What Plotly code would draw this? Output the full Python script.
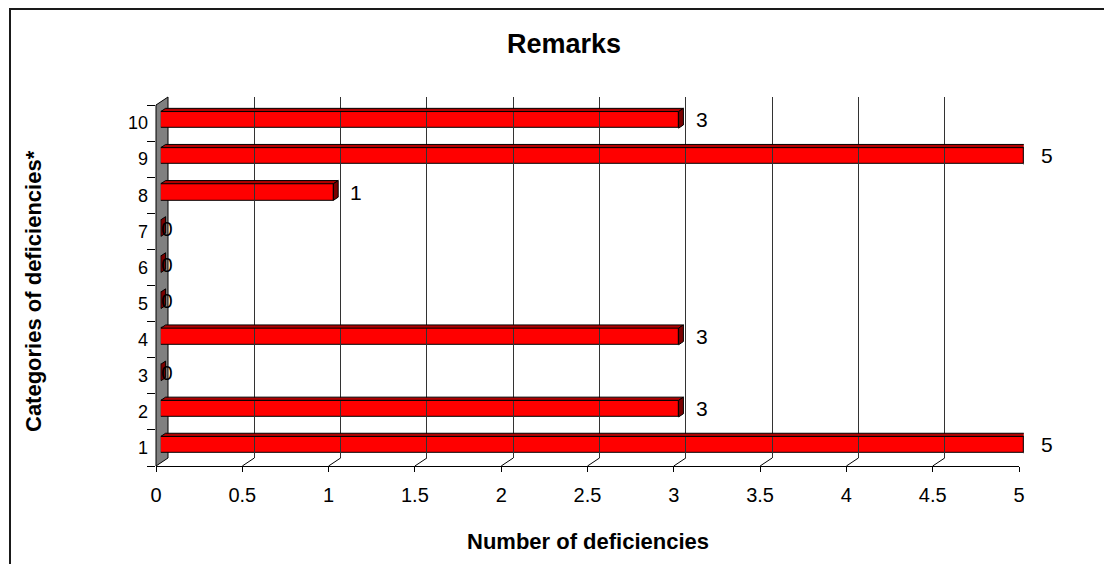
import plotly.graph_objects as go

# ---- data -------------------------------------------------------------
CATEGORIES = ["1", "2", "3", "4", "5", "6", "7", "8", "9", "10"]
COUNTS = [5, 3, 0, 3, 0, 0, 0, 1, 5, 3]
X_TICKS = [0, 0.5, 1, 1.5, 2, 2.5, 3, 3.5, 4, 4.5, 5]
X_TICK_TEXT = ["0", "0.5", "1", "1.5", "2", "2.5", "3", "3.5", "4", "4.5", "5"]
TITLE = "Remarks"
X_TITLE = "Number of deficiencies"
Y_TITLE = "Categories of deficiencies*"

# ---- frame geometry (pixels) -----------------------------------------
W, H = 1104, 564
FX0, FX1 = 156, 1019          # front edge of the floor (x = 0 .. 5)
FY_TOP, FY_BOT = 105, 466     # front edge of the side wall
DEPTH_X, DEPTH_Y = 12, -8     # full 3-D depth offset
BAR_FRONT, BAR_BACK = 0.4, 0.8
BAR_WIDTH = 0.46

X_MAX = 5
N_CAT = len(CATEGORIES)
PX_PER_X = (FX1 - FX0) / X_MAX
PX_PER_Y = (FY_BOT - FY_TOP) / N_CAT

FONT = "Arial, Liberation Sans, sans-serif"
RED, RED_TOP, RED_SIDE = "#FF0000", "#B00000", "#7A0000"


def px_x(p):
    return p / W


def px_y(p):
    return 1 - p / H


def dom_x(a, b):
    return [px_x(a), px_x(b)]


def dom_y(top, bot):
    return [px_y(bot), px_y(top)]


# bar plane sits at BAR_FRONT of the depth
bx0 = FX0 + BAR_FRONT * DEPTH_X
by_off = BAR_FRONT * DEPTH_Y
# depth of each bar, in data units of the bar plane
ddx = (BAR_BACK - BAR_FRONT) * DEPTH_X / PX_PER_X
ddy = -(BAR_BACK - BAR_FRONT) * DEPTH_Y / PX_PER_Y

ycat = list(range(1, N_CAT + 1))

fig = go.Figure()

# front faces of the bars
fig.add_trace(go.Bar(
    x=COUNTS, y=ycat, orientation="h", width=BAR_WIDTH,
    marker=dict(color=RED, line=dict(color="black", width=1)),
    xaxis="x", yaxis="y", hoverinfo="skip", showlegend=False,
))

# helper traces so the front and back subplots exist
fig.add_trace(go.Scatter(x=[0] * N_CAT, y=CATEGORIES, xaxis="x2", yaxis="y2",
                         mode="markers", marker=dict(opacity=0),
                         hoverinfo="skip", showlegend=False))
fig.add_trace(go.Scatter(x=[0], y=[0], xaxis="x3", yaxis="y3",
                         mode="markers", marker=dict(opacity=0),
                         hoverinfo="skip", showlegend=False))

shapes = []

# grey side wall
wall = (f"M {px_x(FX0)},{px_y(FY_BOT)} L {px_x(FX0)},{px_y(FY_TOP)} "
        f"L {px_x(FX0 + DEPTH_X)},{px_y(FY_TOP + DEPTH_Y)} "
        f"L {px_x(FX0 + DEPTH_X)},{px_y(FY_BOT + DEPTH_Y)} Z")
shapes.append(dict(type="path", path=wall, xref="paper", yref="paper",
                   fillcolor="#808080", line=dict(color="black", width=1),
                   layer="below"))

# floor lines joining front ticks to back gridlines
for t in X_TICKS[1:]:
    shapes.append(dict(type="line", xref="x2", yref="paper",
                       x0=t, y0=px_y(FY_BOT),
                       x1=t + DEPTH_X / PX_PER_X, y1=px_y(FY_BOT + DEPTH_Y),
                       line=dict(color="black", width=1)))

# top and end faces of each bar
for k, v in zip(ycat, COUNTS):
    yt = k + BAR_WIDTH / 2
    yb = k - BAR_WIDTH / 2
    if v > 0:
        shapes.append(dict(
            type="path", xref="x", yref="y",
            path=(f"M 0,{yt} L {v},{yt} L {v + ddx},{yt + ddy} "
                  f"L {ddx},{yt + ddy} Z"),
            fillcolor=RED_TOP, line=dict(color="black", width=1),
            layer="above"))
    shapes.append(dict(
        type="path", xref="x", yref="y",
        path=(f"M {v},{yb} L {v},{yt} L {v + ddx},{yt + ddy} "
              f"L {v + ddx},{yb + ddy} Z"),
        fillcolor=RED_SIDE, line=dict(color="black", width=1),
        layer="above"))

# chart border (top and left)
shapes.append(dict(type="line", xref="paper", yref="paper",
                   x0=px_x(9), y0=px_y(9), x1=1, y1=px_y(9),
                   line=dict(color="#1a1a1a", width=2)))
shapes.append(dict(type="line", xref="paper", yref="paper",
                   x0=px_x(10), y0=px_y(9), x1=px_x(10), y1=0,
                   line=dict(color="#1a1a1a", width=2)))

annotations = []
# value labels
for k, v in zip(ycat, COUNTS):
    annotations.append(dict(
        x=v, y=k, xref="x", yref="y", text=str(v), showarrow=False,
        xanchor="left", yanchor="middle", xshift=15 if v > 0 else -2,
        font=dict(family=FONT, size=21, color="black")))

annotations.append(dict(
    x=px_x(564), y=px_y(44), xref="paper", yref="paper", text=f"<b>{TITLE}</b>",
    showarrow=False, xanchor="center", yanchor="middle",
    font=dict(family=FONT, size=27, color="black")))
annotations.append(dict(
    x=px_x(588), y=px_y(541), xref="paper", yref="paper", text=f"<b>{X_TITLE}</b>",
    showarrow=False, xanchor="center", yanchor="middle",
    font=dict(family=FONT, size=22, color="black")))
annotations.append(dict(
    x=px_x(33), y=px_y(291), xref="paper", yref="paper", text=f"<b>{Y_TITLE}</b>",
    showarrow=False, xanchor="center", yanchor="middle", textangle=-90,
    font=dict(family=FONT, size=22, color="black")))

fig.update_layout(
    template="none",
    width=W, height=H, autosize=False,
    margin=dict(l=0, r=0, t=0, b=0, pad=0, autoexpand=False),
    paper_bgcolor="white", plot_bgcolor="rgba(0,0,0,0)",
    showlegend=False, bargap=0,
    font=dict(family=FONT, color="black"),
    # bar plane
    xaxis=dict(domain=dom_x(bx0, bx0 + X_MAX * PX_PER_X), range=[0, X_MAX],
               visible=False, anchor="y", fixedrange=True, automargin=False),
    yaxis=dict(domain=dom_y(FY_TOP + by_off, FY_BOT + by_off),
               range=[0.5, N_CAT + 0.5], visible=False, anchor="x",
               fixedrange=True, automargin=False),
    # front edge: tick labels and category labels
    xaxis2=dict(domain=dom_x(FX0, FX1), range=[0, X_MAX], anchor="y2",
                tickvals=X_TICKS, ticktext=X_TICK_TEXT,
                ticks="outside", ticklen=5, tickcolor="black",
                showline=True, linecolor="black", linewidth=1,
                showgrid=False, zeroline=False, ticklabelstandoff=6,
                tickfont=dict(family=FONT, size=20, color="black"),
                fixedrange=True, automargin=False),
    yaxis2=dict(domain=dom_y(FY_TOP, FY_BOT), type="category",
                categoryarray=CATEGORIES, categoryorder="array",
                range=[-0.5, N_CAT - 0.5], anchor="x2",
                tickson="boundaries", ticks="outside", ticklen=8,
                tickcolor="black", showline=False, showgrid=False,
                zeroline=False, ticklabelstandoff=7,
                tickfont=dict(family=FONT, size=18, color="black"),
                fixedrange=True, automargin=False),
    # back wall gridlines
    xaxis3=dict(domain=dom_x(FX0 + DEPTH_X, FX1 + DEPTH_X),
                range=[0, X_MAX * 1.00002], anchor="y3", dtick=0.5, tick0=0,
                showgrid=True, gridcolor="#333333", gridwidth=1,
                showticklabels=False, ticks="", zeroline=False,
                showline=False, fixedrange=True, automargin=False),
    yaxis3=dict(domain=dom_y(FY_TOP + DEPTH_Y, FY_BOT + DEPTH_Y),
                range=[0, 1], visible=False, anchor="x3", fixedrange=True,
                automargin=False),
    shapes=shapes,
    annotations=annotations,
)

fig.write_html("out.html", config={"displayModeBar": False})
